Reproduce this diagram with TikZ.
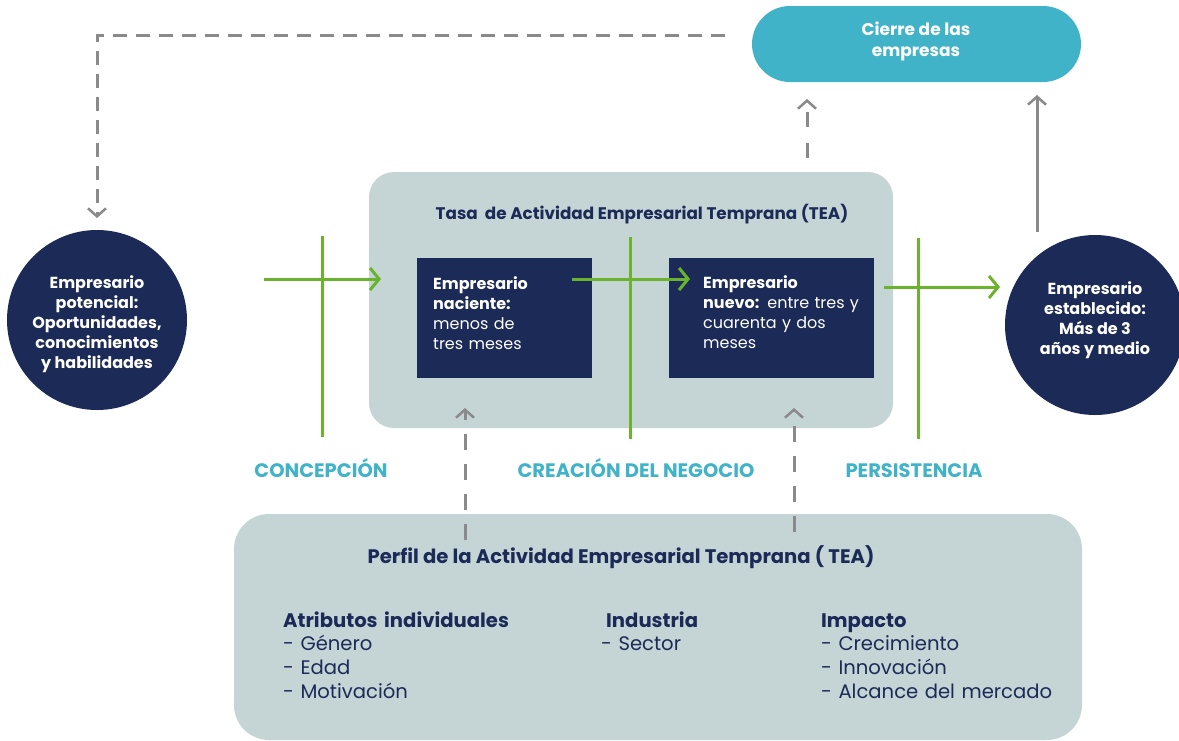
\documentclass[tikz,border=0pt]{standalone}
\usepackage{fontspec}
\setmainfont{Poppins}
\usetikzlibrary{arrows.meta}
\definecolor{navy}{HTML}{1B2A56}
\definecolor{panel}{HTML}{C5D5D6}
\definecolor{grn}{HTML}{6AB42D}
\definecolor{tealc}{HTML}{40B3C8}
\definecolor{gry}{HTML}{8A8A8A}
\tikzset{
  panelbox/.style={fill=panel, draw=none, rounded corners=#1},
  darkbox/.style={fill=navy, draw=none},
  dot/.style={circle, fill=navy, draw=none, minimum size=180pt, inner sep=0pt},
  whitetxt/.style={text=white, align=center, font=\bfseries\fontsize{16}{20}\selectfont, inner sep=0pt},
  boxtxt/.style={text=white, align=left, anchor=base west, font=\fontsize{16}{20}\selectfont, inner sep=0pt, text width=160pt},
  greenline/.style={draw=grn, line width=3pt},
  greenarrow/.style={draw=grn, line width=3pt, -{Straight Barb[length=9pt, width=22pt, line width=3pt]}},
  grayarrow/.style={draw=gry, line width=3pt, -{Straight Barb[length=8pt, width=18pt, line width=2.5pt]}},
  graydash/.style={grayarrow, dash pattern=on 14pt off 9pt},
  stagelabel/.style={text=tealc, anchor=base, font=\bfseries\fontsize{19.5}{22}\selectfont, inner sep=0pt},
  navytitle/.style={text=navy, font=\bfseries\fontsize{16.8}{20}\selectfont, inner sep=0pt},
  listtxt/.style={text=navy, align=left, anchor=base west, inner sep=0pt, text width=250pt, font=\fontsize{19.6}{23.7}\selectfont},
}
\begin{document}
\begin{tikzpicture}[x=1pt,y=-1pt]
\useasboundingbox (0,0) rectangle (1179,740);

% panels
\node[panelbox=25pt, minimum width=524pt, minimum height=256pt] (tea) at (631,300) {};
\node[panelbox=35pt, minimum width=848pt, minimum height=226pt] (perfil) at (658,627) {};
\node[fill=tealc, rounded corners=38pt, minimum width=329pt, minimum height=76pt] (cierre) at (916.5,44) {};
\node[text=white, align=center, font=\bfseries\fontsize{17}{21}\selectfont, inner sep=0pt] (cierretxt) at (916,41) {Cierre de las\\empresas};

% circles
\node[dot] (pot) at (97,320) {};
\node[whitetxt] (pottxt) at (97,324) {Empresario\\potencial:\\Oportunidades,\\conocimientos\\y habilidades};
\node[dot] (est) at (1095,325) {};
\node[whitetxt] (esttxt) at (1095,320) {Empresario\\establecido:\\Más de 3\\años y medio};

% inner boxes
\node[darkbox, minimum width=175pt, minimum height=120pt] (nac) at (504.5,318) {};
\node[darkbox, minimum width=205pt, minimum height=120pt] (nue) at (771.5,318) {};
\node[boxtxt] (nactxt) at (433,289) {\textbf{Empresario}\\\textbf{naciente:}\\menos de\\tres meses};
\node[boxtxt, text width=175pt] (nuetxt) at (703,288) {\textbf{Empresario}\\\textbf{nuevo:} entre tres y\\cuarenta y dos\\meses};

% titles
\node[navytitle] (teatitle) at (642,214) {Tasa~ de Actividad Empresarial Temprana (TEA)};
\node[text=navy, inner sep=0pt, font=\bfseries\fontsize{19.6}{22}\selectfont] (perfiltitle) at (621,557) {Perfil de la Actividad Empresarial Temprana ( TEA)};

% list columns
\node[listtxt] (col1) at (283,627) {\textbf{Atributos individuales}\\- Género\\- Edad\\- Motivación};
\node[listtxt, text width=150pt] (col2) at (601,627) {\hspace*{5pt}\textbf{Industria}\\- Sector};
\node[listtxt] (col3) at (821,627) {\textbf{Impacto}\\- Crecimiento\\- Innovación\\- Alcance del mercado};

% stage labels
\node[stagelabel] (lab1) at (321,477) {CONCEPCIÓN};
\node[stagelabel] (lab2) at (636,477) {CREACIÓN DEL NEGOCIO};
\node[stagelabel] (lab3) at (914,477) {PERSISTENCIA};

% green stage lines
\coordinate (v1t) at (322,236); \coordinate (v1b) at (322,437);
\coordinate (v2t) at (630,237); \coordinate (v2b) at (630,439);
\coordinate (v3t) at (918,238); \coordinate (v3b) at (918,439);
\draw[greenline] (v1t) -- (v1b);
\draw[greenline] (v2t) -- (v2b);
\draw[greenline] (v3t) -- (v3b);
\coordinate (g1s) at (264,279); \coordinate (g1e) at (381,279);
\coordinate (g2s) at (572,279); \coordinate (g2e) at (690,279);
\coordinate (g3s) at (884,287); \coordinate (g3e) at (1000,287);
\draw[greenarrow] (g1s) -- (g1e);
\draw[greenarrow] (g2s) -- (g2e);
\draw[greenarrow] (g3s) -- (g3e);

% gray connectors
\coordinate (d0) at (725,35);
\coordinate (d1) at (97,35);
\coordinate (d2) at (97,218);
\draw[graydash] (d0) -- (d1) -- (d2);
\coordinate (u1s) at (807,158); \coordinate (u1e) at (807,99);
\draw[graydash, dash pattern=on 15pt off 16pt] (u1s) -- (u1e);
\coordinate (u2s) at (1037,232); \coordinate (u2e) at (1037,95);
\draw[grayarrow] (u2s) -- (u2e);
\coordinate (b1s) at (465,540); \coordinate (b1e) at (465,408);
\coordinate (b2s) at (794,532); \coordinate (b2e) at (794,408);
\draw[graydash, dash pattern=on 16pt off 14pt] (b1s) -- (b1e);
\draw[graydash, dash pattern=on 16pt off 14pt] (b2s) -- (b2e);
\end{tikzpicture}
\end{document}
